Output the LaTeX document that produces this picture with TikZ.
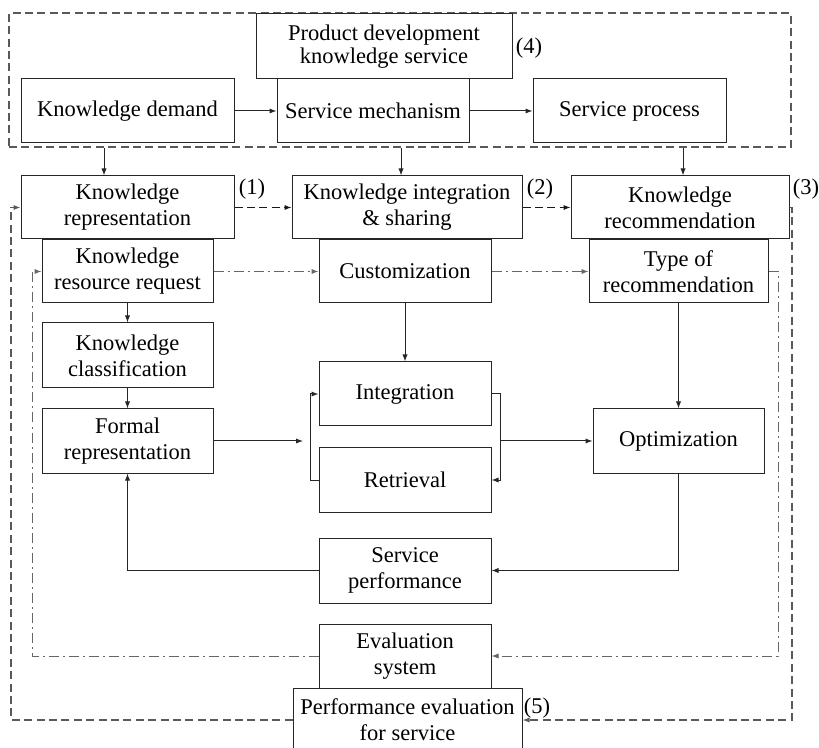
\documentclass[tikz,border=0pt]{standalone}
\usepackage{fontspec}
\setmainfont{Liberation Serif}
\usetikzlibrary{arrows.meta}
\begin{document}
\begin{tikzpicture}[x=0.5pt,y=-0.5pt,
  txt/.style={font=\fontsize{11.25pt}{13pt}\selectfont},
  box/.style={txt, draw=black!85, line width=0.5pt, fill=white, align=center, inner sep=0pt},
  arr/.style={-{Latex[length=3.5pt,width=2.6pt]}, line width=0.5pt, draw=black!85},
  dashline/.style={draw=black!65, line width=0.6pt, dash pattern=on 4pt off 2.2pt},
  stagedash/.style={draw=black!90, line width=0.5pt, dash pattern=on 4pt off 2.2pt},
  dotdash/.style={draw=black!60, line width=0.5pt, dash pattern=on 5pt off 2pt on 1pt off 2pt},
  tag/.style={txt, inner sep=0pt}
]
\useasboundingbox (0,0) rectangle (819,748);
\clip (0,0) rectangle (819,748);

% service layer frame
\node[dashline, draw, minimum width=391pt, minimum height=67pt, inner sep=0pt] (top) at (400,80) {};

% service layer
\node[box, minimum width=128pt, minimum height=32.5pt, font=\fontsize{11.25pt}{9.5pt}\selectfont] (pd) at (384,46.5) {Product development\\knowledge service};
\node[box, minimum width=106.5pt, minimum height=32pt] (kd) at (127.5,111) {Knowledge demand};
\node[box, minimum width=96pt, minimum height=32pt] (sm) at (373,111) {Service mechanism};
\node[box, minimum width=96.5pt, minimum height=32pt] (sp) at (629.5,111) {Service process};

% knowledge stages
\node[box, minimum width=106.5pt, minimum height=31.5pt] (kr) at (127.5,207.5) {Knowledge\\representation};
\node[box, minimum width=115pt, minimum height=31.5pt] (kis) at (407,207.5) {Knowledge integration\\\& sharing};
\node[box, minimum width=109pt, minimum height=31.5pt] (krec) at (680,207.5) {Knowledge\\recommendation};

\node[box, minimum width=85.5pt, minimum height=31.5pt] (krr) at (127.5,271.5) {Knowledge\\resource request};
\node[box, minimum width=86pt, minimum height=31.5pt] (cust) at (405,271.5) {Customization};
\node[box, minimum width=89.5pt, minimum height=31.5pt] (type) at (678.5,271.5) {Type of\\recommendation};

\node[box, minimum width=85.5pt, minimum height=32.5pt] (kc) at (127.5,355.5) {Knowledge\\classification};
\node[box, minimum width=85.5pt, minimum height=32pt] (fr) at (127.5,441) {Formal\\representation};
\node[box, minimum width=86pt, minimum height=32pt] (integ) at (405,394) {Integration};
\node[box, minimum width=86pt, minimum height=32pt] (retr) at (405,480) {Retrieval};
\node[box, minimum width=85.5pt, minimum height=32pt] (opt) at (678.5,441) {Optimization};

\node[box, minimum width=86pt, minimum height=32.5pt] (sperf) at (405,570.5) {Service\\performance};
\node[box, minimum width=86pt, minimum height=32pt] (eval) at (405,656) {Evaluation\\system};
\node[box, minimum width=114.5pt, minimum height=32pt] (pes) at (407.5,720) {Performance evaluation\\for service};

% stage numbers
\node[tag] (t1) at (252,189) {(1)};
\node[tag] (t2) at (540,189) {(2)};
\node[tag] (t3) at (806,189) {(3)};
\node[tag] (t4) at (529,48) {(4)};
\node[tag] (t5) at (537,708) {(5)};

% routing columns
\coordinate (xa) at (104,0);
\coordinate (xb) at (401,0);
\coordinate (xc) at (683,0);
\coordinate (fa) at (303,0);
\coordinate (lb) at (310,0);
\coordinate (rb) at (500,0);
\coordinate (rd) at (778,0);
\coordinate (ld) at (32,0);
\coordinate (rx) at (792,0);
\coordinate (lx) at (11,0);

% service layer flow
\draw[arr] (kd.east) -- (sm.west);
\draw[arr] (sm.east) -- (sp.west);
\draw[arr] (top.south -| xa) -- (kr.north -| xa);
\draw[arr] (top.south -| xb) -- (kis.north -| xb);
\draw[arr] (top.south -| xc) -- (krec.north -| xc);

% stage sequence
\draw[arr, stagedash] (kr.east) -- (kis.west);
\draw[arr, stagedash] (kis.east) -- (krec.west);
\draw[arr, dotdash] (krr.east) -- (cust.west);
\draw[arr, dotdash] (cust.east) -- (type.west);

% inner flows
\draw[arr] (krr.south) -- (kc.north);
\draw[arr] (kc.south) -- (fr.north);
\draw[arr] (cust.south) -- (integ.north);
\draw[arr] (fr.east) -- (fr.east -| fa);
\draw[arr] (retr.west) -- (retr.west -| lb) -- (integ.west -| lb) -- (integ.west);
\draw[arr] (integ.east) -- (integ.east -| rb) -- (retr.east -| rb) -- (retr.east);
\draw[arr] (opt.west -| rb) -- (opt.west);
\draw[arr] (type.south) -- (opt.north);
\draw[arr] (opt.south) |- (sperf.east);
\draw[arr] (sperf.west) -| (fr.south);

% evaluation feedback loops
\draw[arr, dotdash] (type.east) -- (type.east -| rd) -- (eval.east -| rd) -- (eval.east);
\draw[arr, dotdash] (eval.west) -- (eval.west -| ld) -- (krr.west -| ld) -- (krr.west);
\draw[arr, dashline] (krec.east) -- (krec.east -| rx) -- (pes.east -| rx) -- (pes.east);
\draw[arr, dashline] (pes.west) -- (pes.west -| lx) -- (kr.west -| lx) -- (kr.west);
\end{tikzpicture}
\end{document}
